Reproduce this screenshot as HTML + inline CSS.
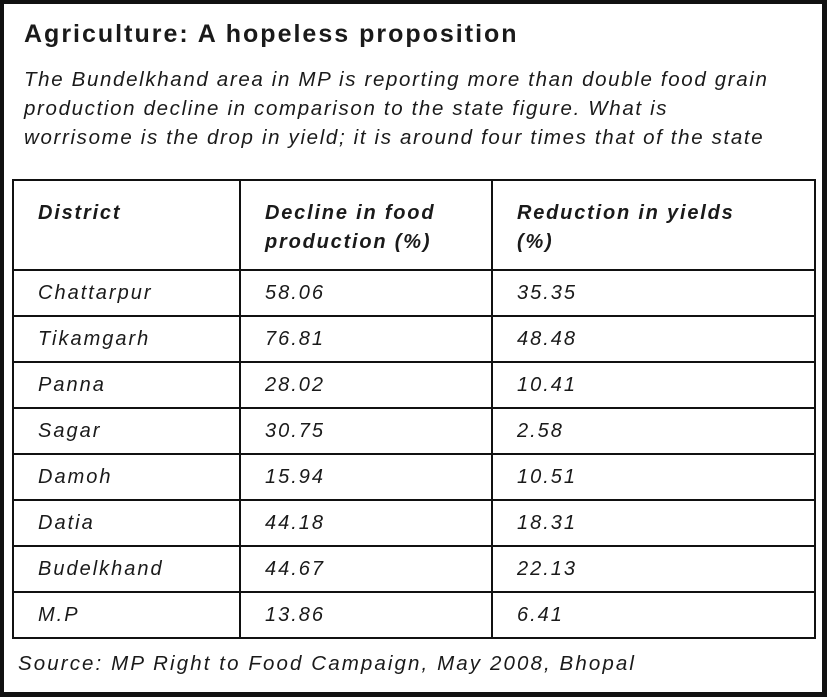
<!DOCTYPE html>
<html><head><meta charset="utf-8"><style>
body{margin:0;width:828px;height:698px;background:#fff;font-family:"Liberation Sans",sans-serif;color:#1a1a1a;position:relative;overflow:hidden}
.frame{position:absolute;left:0;top:0;width:818px;height:688px;border:4px solid #111;border-right-width:5px;border-bottom-width:5px}
.t{position:absolute;white-space:nowrap}
table{position:absolute;left:12px;top:179px;width:804px;border-collapse:collapse;font-style:italic;font-size:20px;letter-spacing:2px}
td{border:2px solid #111;padding:0 0 0 24px;height:44px;vertical-align:middle}
tr.h td{height:70px;font-weight:bold;vertical-align:top;padding-top:18px;line-height:29px;letter-spacing:1.8px}
</style></head><body>
<div class="frame"></div>
<div class="t" style="left:24px;top:20px;font-size:25px;font-weight:bold;letter-spacing:2px">Agriculture: A hopeless proposition</div>
<div class="t" style="left:24px;top:65px;font-size:20.5px;font-style:italic;line-height:29px;letter-spacing:1.65px">The Bundelkhand area in MP is reporting more than double food grain<br>production decline in comparison to the state figure. What is<br>worrisome is the drop in yield; it is around four times that of the state</div>
<table>
<tr class="h"><td style="width:201px">District</td><td style="width:226px">Decline in food<br>production (%)</td><td>Reduction in yields<br>(%)</td></tr>
<tr><td>Chattarpur</td><td>58.06</td><td>35.35</td></tr>
<tr><td>Tikamgarh</td><td>76.81</td><td>48.48</td></tr>
<tr><td>Panna</td><td>28.02</td><td>10.41</td></tr>
<tr><td>Sagar</td><td>30.75</td><td>2.58</td></tr>
<tr><td>Damoh</td><td>15.94</td><td>10.51</td></tr>
<tr><td>Datia</td><td>44.18</td><td>18.31</td></tr>
<tr><td>Budelkhand</td><td>44.67</td><td>22.13</td></tr>
<tr><td>M.P</td><td>13.86</td><td>6.41</td></tr>
</table>
<div class="t" style="left:18px;top:652px;font-size:20.5px;font-style:italic;letter-spacing:2.1px">Source: MP Right to Food Campaign, May 2008, Bhopal</div>
</body></html>
